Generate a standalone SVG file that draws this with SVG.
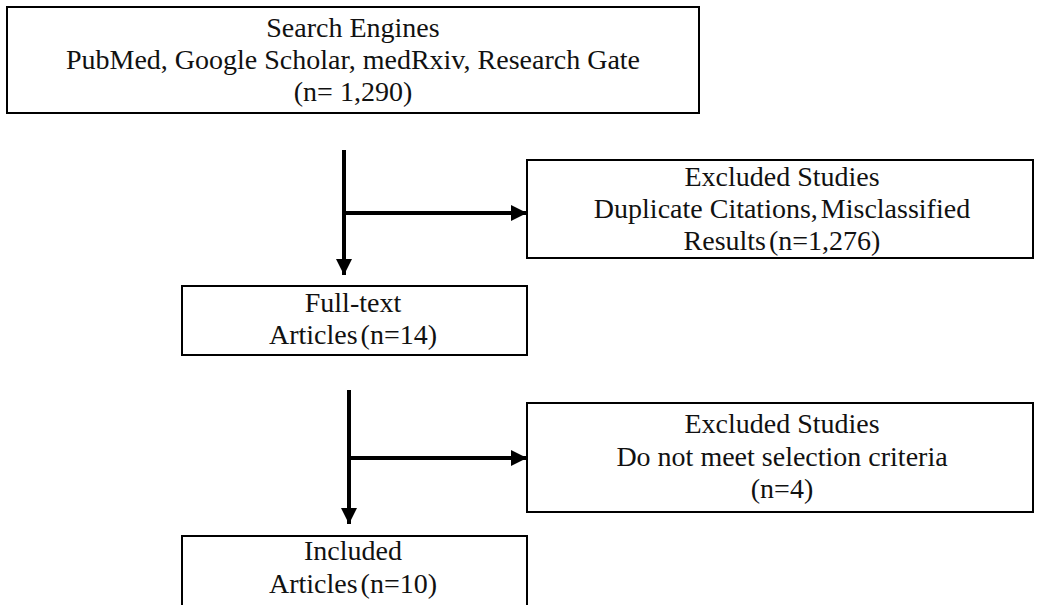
<svg xmlns="http://www.w3.org/2000/svg" width="1040" height="605" viewBox="0 0 1040 605">
<defs>
<marker id="ah" markerWidth="4" markerHeight="4" refX="4" refY="2" orient="auto" markerUnits="strokeWidth"><path d="M0,0 L4,2 L0,4 Z" fill="#000"/></marker>
<style>
.box{fill:#fff;stroke:#000;stroke-width:2}
.t{font-family:"Liberation Serif","Times New Roman",serif;font-size:28px;fill:#111;text-anchor:middle}
.c{stroke:#000;stroke-width:4;fill:none}
</style>
</defs>
<rect width="1040" height="605" fill="#fff"/>
<g id="n1"><rect class="box" x="7" y="7" width="692" height="106"/>
<text class="t" x="353" y="37">Search Engines</text>
<text class="t" x="353" y="69">PubMed, Google Scholar, medRxiv, Research Gate</text>
<text class="t" x="353" y="101">(n= 1,290)</text></g>
<g id="n2"><rect class="box" x="527" y="160" width="506" height="98"/>
<text class="t" x="782" y="186">Excluded Studies</text>
<text class="t" x="782" y="218">Duplicate Citations, <tspan dx="-4">Misclassified</tspan></text>
<text class="t" x="782" y="250">Results <tspan dx="-4">(n=1,276)</tspan></text></g>
<g id="n3"><rect class="box" x="182" y="286" width="345" height="69"/>
<text class="t" x="353" y="312">Full-text</text>
<text class="t" x="353" y="344">Articles <tspan dx="-4">(n=14)</tspan></text></g>
<g id="n4"><rect class="box" x="527" y="403" width="506" height="109"/>
<text class="t" x="782" y="433">Excluded Studies</text>
<text class="t" x="782" y="466">Do not meet selection criteria</text>
<text class="t" x="782" y="498">(n=4)</text></g>
<g id="n5"><rect class="box" x="182" y="536" width="345" height="80"/>
<text class="t" x="353" y="560">Included</text>
<text class="t" x="353" y="593">Articles <tspan dx="-4">(n=10)</tspan></text></g>
<g id="connectors">
<line class="c" x1="344" y1="150" x2="344" y2="275" marker-end="url(#ah)"/>
<line class="c" x1="344" y1="213" x2="527" y2="213" marker-end="url(#ah)"/>
<line class="c" x1="349" y1="390" x2="349" y2="524" marker-end="url(#ah)"/>
<line class="c" x1="349" y1="458" x2="527" y2="458" marker-end="url(#ah)"/>
</g>
</svg>
